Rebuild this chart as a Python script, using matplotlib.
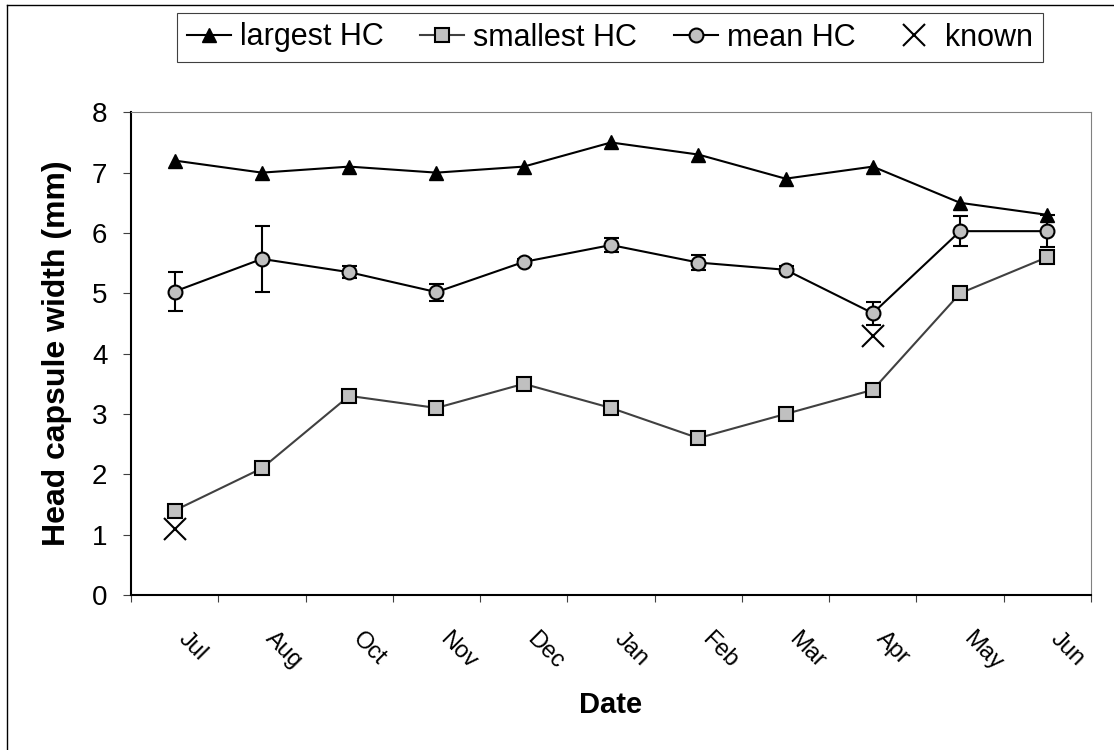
import matplotlib.pyplot as plt
import numpy as np
from matplotlib.lines import Line2D
from matplotlib.transforms import ScaledTranslation

# Head capsule widths (mm) per sampling month
months = ["Jul", "Aug", "Oct", "Nov", "Dec", "Jan", "Feb", "Mar", "Apr", "May", "Jun"]
largest_hc = [7.2, 7.0, 7.1, 7.0, 7.1, 7.5, 7.3, 6.9, 7.1, 6.5, 6.3]
smallest_hc = [1.4, 2.1, 3.3, 3.1, 3.5, 3.1, 2.6, 3.0, 3.4, 5.0, 5.6]
mean_hc = [5.03, 5.57, 5.35, 5.02, 5.52, 5.80, 5.51, 5.39, 4.67, 6.03, 6.03]
mean_err = [0.32, 0.55, 0.10, 0.14, 0.05, 0.12, 0.13, 0.06, 0.19, 0.25, 0.27]
known_months = ["Jul", "Apr"]
known_hc = [1.1, 4.3]

plt.rcParams["font.family"] = ["Liberation Sans", "DejaVu Sans"]

W, H = 1114, 750
fig = plt.figure(figsize=(W / 100, H / 100), dpi=100)
ax = fig.add_axes([131 / W, 1 - 595 / H, 960 / W, (595 - 112.3) / H])

x = np.arange(len(months))
known_x = [months.index(m) for m in known_months]

ax.errorbar(x, mean_hc, yerr=mean_err, fmt="none", ecolor="black",
            elinewidth=1.5, capsize=5.4, capthick=1.5, zorder=2)
h_large, = ax.plot(x, largest_hc, color="black", lw=1.5, marker="^", ms=10,
                   mfc="black", mec="black", mew=1, zorder=3, label="largest HC")
h_small, = ax.plot(x, smallest_hc, color="#404040", lw=1.5, marker="s", ms=10,
                   mfc="#c0c0c0", mec="black", mew=1.5, zorder=3, label="smallest HC")
h_mean, = ax.plot(x, mean_hc, color="black", lw=1.5, marker="o", ms=10,
                  mfc="#c0c0c0", mec="black", mew=1.5, zorder=4, label="mean HC")
h_known, = ax.plot(known_x, known_hc, ls="none", marker="x", ms=16.5,
                   mec="black", mew=1.5, zorder=5, label="known")

ax.set_xlim(-0.5, len(months) - 0.5)
ax.set_ylim(0, 8)
ax.set_yticks(range(0, 9))

# category boundaries carry the tick marks, labels sit at the centres
ax.set_xticks(x)
ax.set_xticklabels(months)
ax.set_xticks(np.arange(-0.5, len(months)), minor=True)
ax.tick_params(axis="x", which="major", length=0, pad=29, labelsize=17)
ax.tick_params(axis="x", which="minor", length=5, width=0.8, color="#404040",
               direction="out")
ax.tick_params(axis="y", length=6, width=0.8, color="#404040", pad=11,
               labelsize=20)
shift = ScaledTranslation(7 / 100, 0, fig.dpi_scale_trans)
for lab in ax.get_xticklabels():
    lab.set_rotation(-45)
    lab.set_rotation_mode("anchor")
    lab.set_ha("left")
    lab.set_va("center")
    lab.set_transform(lab.get_transform() + shift)

for side in ("left", "bottom"):
    ax.spines[side].set_linewidth(1.5)
    ax.spines[side].set_color("black")
for side in ("top", "right"):
    ax.spines[side].set_linewidth(0.8)
    ax.spines[side].set_color("#808080")

fig.text(57 / W, 1 - 353 / H, "Head capsule width (mm)", rotation=90,
         ha="center", va="center", fontsize=23, fontweight="bold")
fig.text(611 / W, 1 - 713 / H, "Date", ha="center", va="baseline",
         fontsize=21, fontweight="bold")

leg = fig.legend(handles=[h_large, h_small, h_mean, h_known], loc="center",
                 bbox_to_anchor=(610 / W, 1 - 37.5 / H), ncol=4, fontsize=22,
                 frameon=True, fancybox=False, edgecolor="#404040",
                 framealpha=1, handlelength=1.44, handletextpad=0.3,
                 columnspacing=1.2, borderpad=0.3, borderaxespad=0)
leg.get_frame().set_linewidth(0.8)

# outer chart frame
fig.add_artist(Line2D([7 / W, 7 / W], [0, 1 - 5 / H], transform=fig.transFigure,
                      color="black", lw=1))
fig.add_artist(Line2D([7 / W, 1], [1 - 5 / H, 1 - 5 / H], transform=fig.transFigure,
                      color="black", lw=1))

fig.savefig("out.png", dpi=100)
